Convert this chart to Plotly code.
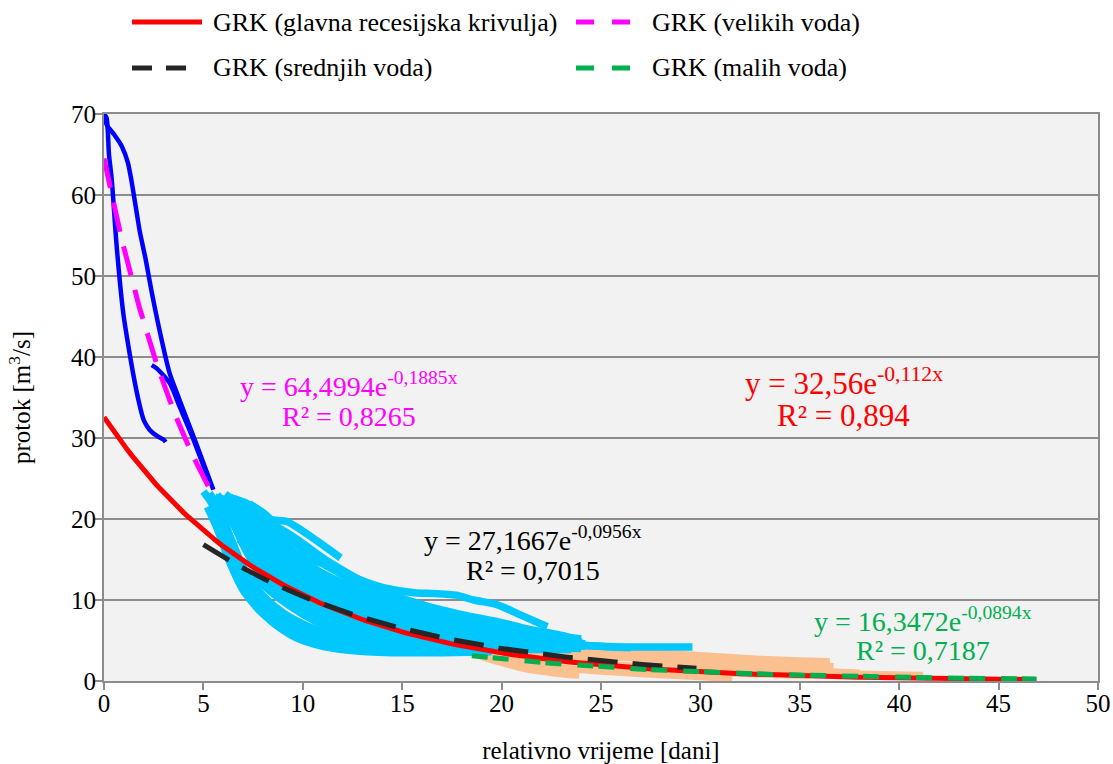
import numpy as np
import plotly.graph_objects as go

# ---- fitted recession curves  Q = a * exp(b * t) ----
GLAVNA_A, GLAVNA_B, GLAVNA_T = 32.56, -0.112, (0.0, 46.9)
VELIKE_A, VELIKE_B, VELIKE_T = 64.4994, -0.1885, (0.0, 5.5)
SREDNJE_A, SREDNJE_B, SREDNJE_T = 27.1667, -0.0956, (5.0, 29.8)
MALE_A, MALE_B, MALE_T = 16.3472, -0.0894, (18.5, 46.9)
R2_GLAVNA, R2_VELIKE, R2_SREDNJE, R2_MALE = "0,894", "0,8265", "0,7015", "0,7187"

# ---- observed recession segments (t [dani], Q [m3/s]) ----
# high-flow recessions
VELIKE_01 = [(0.0, 70.0), (0.15, 68.6), (0.5, 67.5), (0.9, 66.0), (1.2, 64.0), (1.4, 61.5),
             (1.6, 58.5), (1.8, 55.5), (2.1, 52.0), (2.4, 48.0), (2.9, 42.1), (3.3, 38.0),
             (3.8, 34.7), (4.7, 28.9), (5.5, 23.6)]
VELIKE_02 = [(0.0, 70.0), (0.13, 69.5), (0.25, 65.0), (0.39, 61.9), (0.64, 53.6), (0.97, 45.4),
             (1.25, 41.0), (1.5, 37.5), (1.75, 34.5), (2.0, 32.2), (2.3, 31.0), (2.7, 30.2),
             (3.0, 29.8), (3.1, 29.5)]
VELIKE_03 = [(2.4, 39.0), (2.65, 38.6), (3.3, 36.8), (3.8, 33.9), (4.5, 29.8), (5.3, 24.6)]

# medium-flow recessions
SREDNJE_01 = [(5.0, 23.4), (5.4, 22.0), (5.9, 19.0), (6.4, 15.5), (6.9, 12.3), (7.6, 9.6), (8.5, 7.2),
              (9.6, 5.4), (10.8, 4.4), (12.3, 3.8), (14.5, 3.5), (17.0, 3.5), (19.5, 3.6)]
SREDNJE_02 = [(5.3, 23.2), (5.8, 21.2), (6.4, 17.5), (7.1, 13.5), (7.9, 10.4), (8.9, 7.9), (10.1, 6.1),
              (11.5, 5.0), (13.2, 4.3), (15.5, 4.0), (18.0, 3.9), (21.0, 3.9), (23.5, 3.9)]
SREDNJE_03 = [(5.7, 23.0), (6.2, 21.5), (6.9, 18.3), (7.6, 15.0), (8.5, 12.0), (9.6, 9.6), (10.9, 7.7),
              (12.4, 6.4), (14.2, 5.4), (16.5, 4.7), (19.0, 4.3), (22.0, 4.1), (24.0, 4.0)]
SREDNJE_04 = [(6.1, 23.1), (6.7, 21.8), (7.4, 19.2), (8.2, 16.3), (9.2, 13.5), (10.4, 11.2), (11.8, 9.3),
              (13.5, 7.8), (15.5, 6.6), (17.8, 5.6), (20.5, 4.9), (23.0, 4.5), (24.2, 4.3)]
SREDNJE_05 = [(6.4, 22.6), (7.2, 21.9), (7.9, 20.6), (8.7, 18.2), (9.6, 15.8), (10.7, 13.6), (12.0, 11.8),
              (13.6, 10.2), (15.4, 8.8), (17.4, 7.5), (19.6, 6.3), (22.0, 5.4), (24.0, 4.8)]
SREDNJE_06 = [(5.6, 22.7), (6.3, 22.2), (7.0, 21.5), (7.7, 20.5), (8.5, 19.9), (9.2, 19.7), (10.0, 18.5),
              (11.0, 16.8), (11.9, 15.2)]
SREDNJE_07 = [(6.6, 21.4), (7.4, 20.4), (8.2, 19.5), (9.0, 18.6), (10.0, 17.0), (11.0, 15.2), (12.2, 13.4),
              (13.4, 11.8), (14.6, 10.6), (16.0, 9.4), (18.0, 8.0), (20.6, 6.7), (23.1, 5.6), (24.0, 4.8)]
SREDNJE_08 = [(7.8, 16.4), (8.6, 16.3), (9.4, 15.9), (10.4, 15.0), (11.4, 14.1), (12.3, 13.1), (13.2, 12.2),
              (14.3, 11.4), (15.6, 10.9), (16.6, 10.8), (17.7, 10.6), (18.6, 10.0), (19.8, 9.4),
              (21.0, 8.1), (22.3, 6.7)]
SREDNJE_09 = [(6.8, 17.5), (7.8, 15.2), (9.0, 13.2), (10.5, 11.5), (12.2, 10.2), (14.0, 9.4), (15.6, 8.8),
              (17.2, 7.8), (18.9, 6.7), (20.2, 5.8), (21.4, 5.0), (22.6, 4.6), (23.9, 4.4), (26.0, 4.2),
              (28.0, 4.2), (29.6, 4.2)]
SREDNJE_10 = [(5.5, 22.2), (6.0, 20.0), (6.6, 16.0), (7.3, 12.0), (8.1, 9.2), (9.1, 7.0), (10.3, 5.6),
              (11.7, 4.7), (13.5, 4.1), (16.0, 3.8), (18.5, 3.7)]
SREDNJE_11 = [(5.9, 21.6), (6.5, 19.8), (7.2, 16.6), (8.0, 13.5), (9.0, 10.8), (10.2, 8.6), (11.6, 7.0),
              (13.2, 5.8), (15.2, 5.0), (17.5, 4.5), (20.0, 4.2), (22.5, 4.1)]
SREDNJE_12 = [(6.9, 22.0), (7.6, 20.8), (8.4, 18.6), (9.3, 16.0), (10.4, 13.3), (11.6, 11.3), (13.0, 9.7),
              (14.7, 8.3), (16.6, 7.1), (18.8, 6.1), (21.2, 5.2), (23.5, 4.7)]
SREDNJE_13 = [(7.3, 21.9), (8.1, 20.6), (9.0, 18.4), (10.0, 16.2), (11.2, 14.2), (12.6, 12.4), (14.2, 10.8),
              (16.0, 9.4), (18.0, 8.2), (20.0, 7.2), (21.6, 6.2)]
SREDNJE_14 = [(6.2, 20.5), (6.9, 18.5), (7.7, 15.5), (8.6, 12.8), (9.6, 10.6), (10.8, 8.8), (12.2, 7.4),
              (13.8, 6.3), (15.8, 5.5), (18.2, 4.9), (21.0, 4.5), (24.0, 4.3)]
SREDNJE_15 = [(5.2, 21.5), (5.7, 18.8), (6.3, 14.8), (7.0, 11.2), (7.9, 8.5), (9.0, 6.4), (10.4, 5.0),
              (12.0, 4.2), (14.0, 3.8), (16.5, 3.6)]
SREDNJE_16 = [(7.0, 20.0), (7.8, 18.0), (8.7, 15.6), (9.8, 13.2), (11.0, 11.2), (12.4, 9.6), (14.0, 8.3),
              (15.8, 7.2), (17.8, 6.3), (20.0, 5.5), (22.4, 5.0), (24.2, 4.6)]
SREDNJE_17 = [(8.6, 17.4), (9.6, 15.2), (10.8, 13.0), (12.2, 11.0), (13.8, 9.6), (15.6, 8.4), (17.6, 7.2),
              (19.6, 6.2), (21.5, 5.4)]
SREDNJE_18 = [(6.0, 22.0), (6.7, 20.5), (7.5, 17.2), (8.4, 14.0), (9.4, 11.6), (10.6, 9.6), (12.0, 8.0),
              (13.6, 6.8), (15.5, 5.9), (17.6, 5.2), (20.0, 4.7), (22.5, 4.4)]
SREDNJE_19 = [(5.8, 22.5), (6.4, 20.0), (7.0, 16.8), (7.7, 13.8), (8.6, 11.2), (9.7, 9.0), (11.0, 7.3),
              (12.6, 6.0), (14.5, 5.1), (17.0, 4.5), (20.0, 4.2)]
SREDNJE_20 = [(6.3, 22.8), (7.0, 20.8), (7.7, 18.0), (8.5, 15.0), (9.5, 12.5), (10.7, 10.4), (12.1, 8.7),
              (13.8, 7.3), (15.8, 6.2), (18.2, 5.3), (21.0, 4.7)]
SREDNJE_21 = [(5.4, 22.8), (5.9, 20.5), (6.5, 16.5), (7.2, 13.0), (8.0, 10.5), (9.0, 8.4), (10.2, 6.8),
              (11.6, 5.6), (13.3, 4.8), (15.5, 4.3), (18.0, 4.0)]
SREDNJE_22 = [(6.7, 21.0), (7.4, 18.6), (8.2, 15.8), (9.1, 13.2), (10.2, 11.0), (11.5, 9.2), (13.0, 7.8),
              (14.8, 6.6), (16.8, 5.7), (19.2, 5.0), (22.0, 4.5)]
SREDNJE_23 = [(7.6, 19.0), (8.4, 16.8), (9.3, 14.5), (10.4, 12.2), (11.7, 10.3), (13.2, 8.8), (15.0, 7.5),
              (17.0, 6.5), (19.4, 5.6), (22.0, 5.0)]
SREDNJE_24 = [(9.0, 12.0), (10.0, 10.0), (11.2, 8.3), (12.6, 6.9), (14.2, 5.9), (16.0, 5.2), (18.5, 4.7),
              (21.5, 4.4), (24.0, 4.2)]
SREDNJE_25 = [(8.0, 12.5), (8.8, 10.5), (9.8, 8.6), (11.0, 7.0), (12.4, 5.9), (14.0, 5.0), (16.0, 4.5),
              (18.5, 4.2), (21.0, 4.0)]
SREDNJE_26 = [(10.0, 14.6), (11.0, 13.0), (12.2, 11.6), (13.6, 10.2), (15.2, 9.0), (17.0, 7.9), (19.0, 6.9),
              (21.0, 6.0), (23.0, 5.3)]
SREDNJE_27 = [(12.0, 12.4), (13.2, 11.2), (14.6, 10.0), (16.2, 8.9), (18.0, 7.8), (20.0, 6.8), (22.0, 5.9),
              (24.0, 5.2)]
SREDNJE_28 = [(14.0, 8.0), (15.8, 7.0), (17.6, 6.0), (19.5, 5.3), (21.5, 4.8), (23.5, 4.5), (25.5, 4.2),
              (26.5, 4.1)]
SREDNJE_29 = [(6.0, 21.5), (6.6, 19.0), (7.3, 15.5), (8.1, 12.4), (9.0, 10.0), (10.1, 8.1), (11.4, 6.6),
              (13.0, 5.5), (15.0, 4.7), (17.5, 4.2), (20.5, 4.0)]
SREDNJE_30 = [(6.5, 22.0), (7.1, 20.0), (7.9, 16.8), (8.8, 13.8), (9.9, 11.4), (11.2, 9.5), (12.8, 8.0),
              (14.6, 6.8), (16.6, 5.9), (19.0, 5.2), (22.0, 4.7)]
SREDNJE_31 = [(7.2, 21.0), (8.0, 18.8), (8.9, 16.0), (10.0, 13.6), (11.3, 11.6), (12.8, 10.0), (14.5, 8.6),
              (16.5, 7.4), (18.6, 6.4), (21.0, 5.6), (23.6, 5.0)]
SREDNJE_32 = [(5.6, 21.8), (6.1, 19.0), (6.8, 14.8), (7.6, 11.6), (8.5, 9.3), (9.6, 7.5), (10.9, 6.1),
              (12.5, 5.1), (14.5, 4.4), (17.0, 4.0)]
SREDNJE_33 = [(8.2, 17.8), (9.0, 16.6), (9.9, 15.0), (11.0, 13.3), (12.3, 11.8), (13.8, 10.4), (15.5, 9.2),
              (17.4, 8.0), (19.4, 7.0), (21.2, 6.2)]
SREDNJE_34 = [(7.5, 13.0), (8.4, 11.0), (9.4, 9.2), (10.6, 7.7), (12.0, 6.5), (13.6, 5.5), (15.5, 4.8),
              (18.0, 4.3), (21.0, 4.1), (23.5, 4.0)]
SREDNJE_35 = [(6.2, 22.0), (6.9, 19.5), (7.6, 16.5), (8.3, 14.0), (9.2, 11.8), (10.3, 9.8), (11.6, 8.2),
              (13.2, 6.9), (15.0, 6.0), (17.2, 5.3), (19.8, 4.8)]
SREDNJE_36 = [(7.0, 21.2), (7.7, 18.4), (8.5, 15.6), (9.4, 13.4), (10.5, 11.5), (11.8, 9.9), (13.4, 8.5),
              (15.2, 7.3), (17.2, 6.3), (19.6, 5.5), (22.0, 5.0)]

# low-flow recessions
MALE_01 = [(18.6, 3.4), (19.4, 2.7), (20.4, 2.0), (21.4, 1.4), (22.6, 1.0), (23.9, 0.7)]
MALE_02 = [(18.8, 3.7), (20.0, 3.5), (22.0, 3.3), (24.0, 3.1), (26.0, 2.9), (28.0, 2.7), (30.0, 2.4),
           (32.0, 2.1), (34.0, 1.9), (36.7, 1.8)]
MALE_03 = [(19.2, 3.9), (21.0, 3.8), (23.0, 3.8), (24.5, 3.7), (26.5, 3.4), (28.5, 3.1), (30.5, 2.9),
           (32.5, 2.6), (34.5, 2.3), (36.5, 2.1)]
MALE_04 = [(19.5, 3.1), (21.0, 2.8), (23.0, 2.5), (25.0, 2.1), (27.0, 1.8), (29.0, 1.5), (31.0, 1.3),
           (33.0, 1.1), (35.0, 1.0), (37.0, 0.9), (39.0, 0.8), (41.2, 0.7)]
MALE_05 = [(19.0, 3.0), (20.5, 2.5), (22.0, 2.0), (23.5, 1.5), (25.0, 1.2), (27.0, 0.9), (29.5, 0.6),
           (31.6, 0.3)]
MALE_06 = [(20.5, 3.6), (22.5, 3.3), (24.5, 3.3), (26.0, 3.1), (28.0, 2.3), (30.0, 2.0), (32.0, 1.6),
           (34.0, 1.4), (36.0, 1.2), (38.0, 1.0)]
MALE_07 = [(19.8, 3.4), (21.5, 3.0), (23.0, 2.6), (24.5, 2.2), (26.0, 1.8), (27.5, 1.5), (29.5, 1.2),
           (31.5, 1.0), (33.5, 0.8), (35.5, 0.7)]
MALE_08 = [(21.0, 3.6), (23.0, 3.5), (25.0, 3.6), (27.0, 3.5), (29.0, 3.3), (31.0, 3.0), (33.0, 2.7),
           (35.0, 2.5), (36.5, 2.4)]

VELIKE_VODE = [VELIKE_01, VELIKE_02, VELIKE_03]
SREDNJE_VODE = [SREDNJE_01, SREDNJE_02, SREDNJE_03, SREDNJE_04, SREDNJE_05, SREDNJE_06, SREDNJE_07,
                SREDNJE_08, SREDNJE_09, SREDNJE_10, SREDNJE_11, SREDNJE_12, SREDNJE_13, SREDNJE_14,
                SREDNJE_15, SREDNJE_16, SREDNJE_17, SREDNJE_18, SREDNJE_19, SREDNJE_20, SREDNJE_21,
                SREDNJE_22, SREDNJE_23, SREDNJE_24, SREDNJE_25, SREDNJE_26, SREDNJE_27, SREDNJE_28,
                SREDNJE_29, SREDNJE_30, SREDNJE_31, SREDNJE_32, SREDNJE_33, SREDNJE_34, SREDNJE_35,
                SREDNJE_36]
MALE_VODE = [MALE_01, MALE_02, MALE_03, MALE_04, MALE_05, MALE_06, MALE_07, MALE_08]

X_TICKS = [0, 5, 10, 15, 20, 25, 30, 35, 40, 45, 50]
Y_TICKS = [0, 10, 20, 30, 40, 50, 60, 70]

FONT = "Liberation Serif"
C_RED, C_MAG, C_BLK, C_GRN = "#FF0000", "#FF00FF", "#262626", "#00B050"
C_BLUE, C_SKY, C_PEACH = "#0000FF", "#00C8FF", "#FAC090"
C_GRID = "#8C8C8C"

# plot-area geometry in pixels (used to place the legend rows)
W, H = 1113, 764
M_L, M_R, M_T, M_B = 104, 15, 114, 83
PW, PH = W - M_L - M_R, H - M_T - M_B

fig = go.Figure()


def add_segments(segments, color, width):
    for seg in segments:
        t, q = zip(*seg)
        fig.add_trace(go.Scatter(x=t, y=q, mode="lines", showlegend=False, hoverinfo="skip",
                                 line=dict(color=color, width=width, shape="spline", smoothing=0.7)))


add_segments(MALE_VODE, C_PEACH, 7)
add_segments(SREDNJE_VODE, C_SKY, 7.5)
add_segments(VELIKE_VODE, C_BLUE, 4.5)

# legend entries: (name, colour, dash, row, column)
LEGEND = [
    ("GRK (glavna recesijska krivulja)", C_RED, "solid", 0, 0),
    ("GRK (velikih voda)", C_MAG, "18px,18px", 0, 1),
    ("GRK (srednjih voda)", C_BLK, "20px,14px", 1, 0),
    ("GRK (malih voda)", C_GRN, "18px,18px", 1, 1),
]
FITS = [
    (GLAVNA_A, GLAVNA_B, GLAVNA_T, C_RED, "solid"),
    (VELIKE_A, VELIKE_B, VELIKE_T, C_MAG, "30px,15px"),
    (SREDNJE_A, SREDNJE_B, SREDNJE_T, C_BLK, "30px,15px"),
    (MALE_A, MALE_B, MALE_T, C_GRN, "16px,5px,16px,16px"),
]

for (a, b, span, color, dash), (name, *_rest) in zip(FITS, LEGEND):
    t = np.linspace(span[0], span[1], 200)
    fig.add_trace(go.Scatter(x=t, y=a * np.exp(b * t), mode="lines", name=name, showlegend=False,
                             hoverinfo="skip", line=dict(color=color, width=5, dash=dash)))


def px_x(p):
    return (p - M_L) / PW


def px_y(p):
    return (H - M_B - p) / PH


ROW_Y = [22, 68]
COL_SAMPLE = [(132, 202), (576, 630)]
COL_TEXT = [211, 650]
for name, color, dash, row, col in LEGEND:
    y = px_y(ROW_Y[row])
    x0, x1 = COL_SAMPLE[col]
    if row == 1 and col == 0:
        x1 = 188
    fig.add_shape(type="line", xref="paper", yref="paper", x0=px_x(x0), x1=px_x(x1), y0=y, y1=y,
                  line=dict(color=color, width=5, dash=dash))
    fig.add_annotation(xref="paper", yref="paper", x=px_x(COL_TEXT[col]), y=y, text=name,
                       showarrow=False, xanchor="left", yanchor="middle",
                       font=dict(family=FONT, size=26, color="#000000"))


def fmt(v):
    return f"{v}".replace(".", ",")


def eq_text(a, b):
    return f"y = {fmt(a)}e<sup>{fmt(b)}x</sup>"


def label(x, y, text, color, size):
    fig.add_annotation(x=x, y=y, xref="x", yref="y", text=text, showarrow=False,
                       xanchor="center", yanchor="middle",
                       font=dict(family=FONT, size=size, color=color))


# equation labels (positions in data units)
label(12.3, 36.6, eq_text(VELIKE_A, VELIKE_B), C_MAG, 28)
label(12.3, 32.6, f"R² = {R2_VELIKE}", C_MAG, 28)
label(37.2, 37.0, eq_text(GLAVNA_A, GLAVNA_B), C_RED, 31)
label(37.2, 32.8, f"R² = {R2_GLAVNA}", C_RED, 31)
label(21.6, 17.6, eq_text(SREDNJE_A, SREDNJE_B), "#000000", 28)
label(21.6, 13.7, f"R² = {R2_SREDNJE}", "#000000", 28)
label(41.2, 7.6, eq_text(MALE_A, MALE_B), C_GRN, 28)
label(41.2, 3.8, f"R² = {R2_MALE}", C_GRN, 28)

axis_common = dict(showline=True, linecolor=C_GRID, linewidth=2, mirror=True, ticks="outside",
                   ticklen=7, tickwidth=2, tickcolor=C_GRID, zeroline=False, automargin=False,
                   tickfont=dict(family=FONT, size=25, color="#000000"))

fig.update_layout(
    width=W, height=H,
    margin=dict(l=M_L, r=M_R, t=M_T, b=M_B),
    paper_bgcolor="#FFFFFF", plot_bgcolor="#F2F2F2",
    font=dict(family=FONT, size=25, color="#000000"),
    showlegend=False,
    xaxis=dict(range=[0, 50], tickvals=X_TICKS, showgrid=False, ticklabelstandoff=-8,
               title=dict(text="relativno vrijeme [dani]", font=dict(family=FONT, size=25), standoff=25),
               **axis_common),
    yaxis=dict(range=[0, 70], tickvals=Y_TICKS, showgrid=True, gridcolor=C_GRID, gridwidth=2,
               ticklabelstandoff=-6,
               title=dict(text="protok [m<sup>3</sup>/s]", font=dict(family=FONT, size=25), standoff=33),
               **axis_common),
)

fig.write_html("out.html")
